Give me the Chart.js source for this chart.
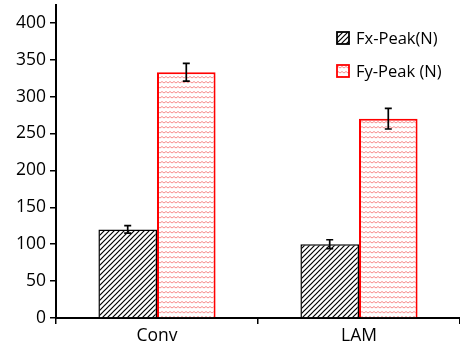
<!DOCTYPE html>
<html><head><meta charset="utf-8">
<script src="https://cdn.jsdelivr.net/npm/chart.js@4"></script>
<style>html,body{margin:0;padding:0;background:#fff}</style>
</head><body>
<canvas id="c" width="460" height="349"></canvas>
<script>
const categories = ["Conv", "LAM"];
const fxPeak = [120, 100];
const fxErr = [5, 6];
const fyPeak = [333, 270];
const fyErr = [12, 14];
const yTicks = [0, 50, 100, 150, 200, 250, 300, 350, 400];
const seriesNames = ["Fx-Peak(N)", "Fy-Peak (N)"];

function hatchPattern() {
  const s = 5, c = document.createElement('canvas');
  c.width = s; c.height = s;
  const g = c.getContext('2d');
  g.fillStyle = '#fff'; g.fillRect(0, 0, s, s);
  g.strokeStyle = '#000'; g.lineWidth = 1.2;
  g.beginPath();
  g.moveTo(-1, s + 1); g.lineTo(s + 1, -1);
  g.moveTo(-1, 1); g.lineTo(1, -1);
  g.moveTo(s - 1, s + 1); g.lineTo(s + 1, s - 1);
  g.stroke();
  return g.createPattern(c, 'repeat');
}
function wavePattern() {
  const w = 4, h = 5, c = document.createElement('canvas');
  c.width = w; c.height = h;
  const g = c.getContext('2d');
  g.fillStyle = '#fff'; g.fillRect(0, 0, w, h);
  g.strokeStyle = 'rgba(245,120,120,0.85)'; g.lineWidth = 1;
  g.beginPath();
  g.moveTo(0, 3); g.lineTo(2, 1.5); g.lineTo(4, 3);
  g.stroke();
  return g.createPattern(c, 'repeat');
}

const errs = [fxErr, fyErr];
const errorBars = {
  id: 'errorBars',
  afterDatasetsDraw(chart) {
    const ctx = chart.ctx, y = chart.scales.y;
    ctx.save();
    ctx.strokeStyle = '#000'; ctx.lineWidth = 1.7;
    chart.data.datasets.forEach((ds, di) => {
      chart.getDatasetMeta(di).data.forEach((bar, i) => {
        const v = ds.data[i], e = errs[di][i];
        const x = bar.x, t = y.getPixelForValue(v + e), b = y.getPixelForValue(v - e);
        ctx.beginPath();
        ctx.moveTo(x, t); ctx.lineTo(x, b);
        ctx.moveTo(x - 3.5, t); ctx.lineTo(x + 3.5, t);
        ctx.moveTo(x - 3.5, b); ctx.lineTo(x + 3.5, b);
        ctx.stroke();
      });
    });
    ctx.restore();
  }
};
const legendPlugin = {
  id: 'customLegend',
  afterDraw(chart) {
    const ctx = chart.ctx;
    ctx.save();
    ctx.font = '16.5px "Open Sans", sans-serif';
    ctx.textBaseline = 'middle';
    const pos = [[337, 38], [337, 71]];
    chart.data.datasets.forEach((ds, i) => {
      const [x, yy] = pos[i];
      ctx.fillStyle = ds.backgroundColor;
      ctx.fillRect(x, yy - 6, 12, 12);
      ctx.strokeStyle = ds.borderColor; ctx.lineWidth = 1.8;
      ctx.strokeRect(x, yy - 6, 12, 12);
      ctx.fillStyle = '#000';
      ctx.fillText(seriesNames[i], x + 19, yy + 1);
    });
    ctx.restore();
  }
};

new Chart(document.getElementById('c'), {
  type: 'bar',
  data: {
    labels: categories,
    datasets: [
      { label: seriesNames[0], data: fxPeak, backgroundColor: hatchPattern(), borderColor: '#000', borderWidth: 1.5 },
      { label: seriesNames[1], data: fyPeak, backgroundColor: wavePattern(), borderColor: '#f00', borderWidth: 2 }
    ]
  },
  options: {
    responsive: false, animation: false,
    layout: { padding: { top: 5, right: 0, left: 0, bottom: 0 } },
    plugins: { legend: { display: false }, tooltip: { enabled: false } },
    datasets: { bar: { categoryPercentage: 0.58, barPercentage: 1 } },
    scales: {
      x: {
        grid: { drawOnChartArea: false, offset: true, tickLength: 6, color: '#000', lineWidth: 1.5 },
        border: { color: '#000', width: 2 },
        ticks: { color: '#000', font: { family: 'Open Sans', size: 17.5 }, padding: 2 },
        afterFit(s) { s.height = 31; s.paddingLeft = 0; s.paddingRight = 0; }
      },
      y: {
        min: 0, max: 424,
        afterBuildTicks(s) { s.ticks = yTicks.map(v => ({ value: v })); },
        grid: { drawOnChartArea: false, tickLength: 6, color: '#000', lineWidth: 1.5 },
        border: { color: '#000', width: 2 },
        ticks: { color: '#000', font: { family: 'Open Sans', size: 17.5 }, padding: 4 },
        afterFit(s) { s.width = 56; s.paddingTop = 0; s.paddingBottom = 0; }
      }
    }
  },
  plugins: [errorBars, legendPlugin]
});
</script>
</body></html>
